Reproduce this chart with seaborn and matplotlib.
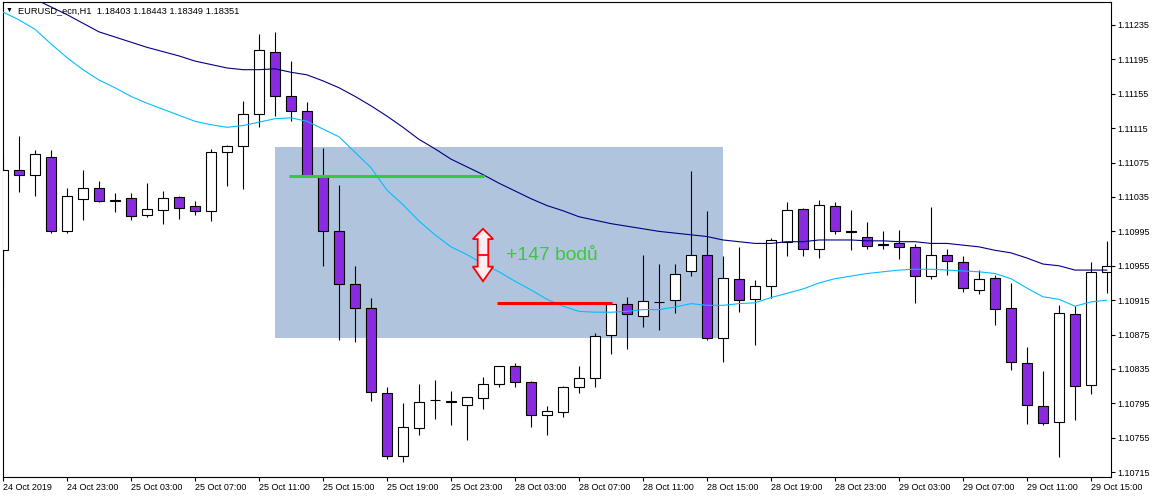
import numpy as np
import pandas as pd
import seaborn as sns
import matplotlib.pyplot as plt
from matplotlib.patches import Rectangle, Polygon

# H1 candles, 24 Oct 2019 19:00 -> 29 Oct 2019 16:00
opens = [1.10973, 1.11066, 1.11061, 1.11081, 1.10995, 1.11033, 1.11045, 1.11031, 1.11034, 1.11014,
         1.11020, 1.11035, 1.11025, 1.11019, 1.11087, 1.11094, 1.11132, 1.11204, 1.11152, 1.11135,
         1.11059, 1.10995, 1.10934, 1.10906, 1.10807, 1.10734, 1.10766, 1.10799, 1.10798, 1.10793,
         1.10801, 1.10818, 1.10838, 1.10820, 1.10781, 1.10785, 1.10814, 1.10825, 1.10875, 1.10911,
         1.10897, 1.10913, 1.10915, 1.10949, 1.10968, 1.10871, 1.10940, 1.10916, 1.10932, 1.10983,
         1.11021, 1.10975, 1.11025, 1.10995, 1.10989, 1.10980, 1.10981, 1.10977, 1.10943, 1.10968,
         1.10959, 1.10927, 1.10941, 1.10906, 1.10842, 1.10792, 1.10773, 1.10899, 1.10816, 1.10948]
highs = [1.11082, 1.11106, 1.11090, 1.11090, 1.11045, 1.11066, 1.11054, 1.11040, 1.11040, 1.11051,
         1.11042, 1.11036, 1.11030, 1.11091, 1.11096, 1.11147, 1.11225, 1.11227, 1.11193, 1.11146,
         1.11092, 1.11049, 1.10955, 1.10918, 1.10814, 1.10796, 1.10818, 1.10822, 1.10809, 1.10802,
         1.10826, 1.10838, 1.10842, 1.10821, 1.10792, 1.10815, 1.10838, 1.10877, 1.10912, 1.10919,
         1.10968, 1.10957, 1.10957, 1.11065, 1.11019, 1.10966, 1.10977, 1.10939, 1.10987, 1.11029,
         1.11022, 1.11032, 1.11029, 1.11020, 1.11006, 1.10995, 1.10997, 1.10980, 1.11023, 1.10975,
         1.10966, 1.10950, 1.10944, 1.10935, 1.10861, 1.10833, 1.10909, 1.10908, 1.10959, 1.10984]
lows = [1.10930, 1.11041, 1.11036, 1.10993, 1.10993, 1.11008, 1.11029, 1.11018, 1.11008, 1.11012,
        1.11004, 1.11009, 1.11014, 1.11007, 1.11048, 1.11044, 1.11116, 1.11129, 1.11123, 1.11058,
        1.10955, 1.10869, 1.10866, 1.10798, 1.10730, 1.10727, 1.10758, 1.10777, 1.10770, 1.10752,
        1.10788, 1.10814, 1.10814, 1.10768, 1.10758, 1.10779, 1.10807, 1.10814, 1.10852, 1.10858,
        1.10884, 1.10880, 1.10900, 1.10943, 1.10869, 1.10843, 1.10901, 1.10863, 1.10918, 1.10966,
        1.10966, 1.10964, 1.10992, 1.10973, 1.10975, 1.10975, 1.10963, 1.10912, 1.10940, 1.10944,
        1.10925, 1.10922, 1.10886, 1.10834, 1.10771, 1.10770, 1.10733, 1.10776, 1.10806, 1.10923]
closes = [1.11066, 1.11061, 1.11085, 1.10995, 1.11036, 1.11045, 1.11030, 1.11030, 1.11013, 1.11021,
          1.11034, 1.11022, 1.11019, 1.11087, 1.11094, 1.11132, 1.11206, 1.11152, 1.11135, 1.11059,
          1.10995, 1.10934, 1.10906, 1.10808, 1.10734, 1.10768, 1.10797, 1.10799, 1.10797, 1.10802,
          1.10818, 1.10838, 1.10820, 1.10781, 1.10786, 1.10814, 1.10825, 1.10873, 1.10911, 1.10899,
          1.10914, 1.10913, 1.10945, 1.10968, 1.10871, 1.10941, 1.10915, 1.10932, 1.10985, 1.11020,
          1.10975, 1.11026, 1.10995, 1.10994, 1.10978, 1.10979, 1.10977, 1.10943, 1.10968, 1.10961,
          1.10929, 1.10940, 1.10905, 1.10843, 1.10793, 1.10772, 1.10900, 1.10815, 1.10948, 1.10955]

# moving averages (slow = navy, fast = light blue)
ma_slow = [1.11284, 1.11275, 1.11265, 1.11256, 1.11247, 1.11237, 1.11227, 1.11221, 1.11215, 1.11209,
           1.11204, 1.11199, 1.11193, 1.11189, 1.11185, 1.11183, 1.11183, 1.11184, 1.11180, 1.11177,
           1.11170, 1.11162, 1.11152, 1.11141, 1.11129, 1.11116, 1.11102, 1.11091, 1.11079, 1.11070,
           1.11061, 1.11051, 1.11042, 1.11033, 1.11025, 1.11019, 1.11012, 1.11008, 1.11004, 1.11001,
           1.10998, 1.10995, 1.10993, 1.10991, 1.10989, 1.10985, 1.10983, 1.10981, 1.10981, 1.10983,
           1.10983, 1.10985, 1.10985, 1.10985, 1.10984, 1.10984, 1.10983, 1.10983, 1.10981, 1.10981,
           1.10979, 1.10977, 1.10973, 1.10970, 1.10964, 1.10957, 1.10955, 1.10950, 1.10950, 1.10950]
ma_fast = [1.11250, 1.11241, 1.11230, 1.11213, 1.11197, 1.11183, 1.11171, 1.11162, 1.11152, 1.11144,
           1.11137, 1.11130, 1.11123, 1.11119, 1.11116, 1.11118, 1.11122, 1.11126, 1.11127, 1.11123,
           1.11114, 1.11105, 1.11087, 1.11069, 1.11043, 1.11026, 1.11007, 1.10991, 1.10977, 1.10968,
           1.10957, 1.10948, 1.10937, 1.10927, 1.10916, 1.10908, 1.10902, 1.10901, 1.10901, 1.10902,
           1.10904, 1.10904, 1.10907, 1.10911, 1.10909, 1.10909, 1.10911, 1.10912, 1.10918, 1.10923,
           1.10928, 1.10935, 1.10940, 1.10943, 1.10946, 1.10948, 1.10950, 1.10951, 1.10951, 1.10950,
           1.10949, 1.10948, 1.10946, 1.10940, 1.10929, 1.10919, 1.10916, 1.10908, 1.10913, 1.10915]

time_labels = ["24 Oct 2019", "24 Oct 23:00", "25 Oct 03:00", "25 Oct 07:00", "25 Oct 11:00",
               "25 Oct 15:00", "25 Oct 19:00", "25 Oct 23:00", "28 Oct 03:00", "28 Oct 07:00",
               "28 Oct 11:00", "28 Oct 15:00", "28 Oct 19:00", "28 Oct 23:00", "29 Oct 03:00",
               "29 Oct 07:00", "29 Oct 11:00", "29 Oct 15:00"]
price_ticks = [1.10715, 1.10755, 1.10795, 1.10835, 1.10875, 1.10915, 1.10955,
               1.10995, 1.11035, 1.11075, 1.11115, 1.11155, 1.11195, 1.11235]

# drawn objects on the chart
zone_start, zone_end = 17.0, 45.0
zone_low, zone_high = 1.10871, 1.11093
green_level, green_start, green_end = 1.11059, 17.9, 30.05
red_level, red_start, red_end = 1.10912, 30.9, 38.05
arrow_x = 30.0
arrow_top, arrow_head_top, arrow_mid, arrow_head_bot, arrow_bot = 1.10998, 1.10986, 1.10968, 1.10954, 1.10937
gain_text = "+147 bodů"
title = "EURUSD_ecn,H1  1.18403 1.18443 1.18349 1.18351"

sns.set_style("white")
plt.rcParams['font.family'] = ['Liberation Sans', 'DejaVu Sans']

df = pd.DataFrame({'open': opens, 'high': highs, 'low': lows, 'close': closes,
                   'ma_slow': ma_slow, 'ma_fast': ma_fast})
df['idx'] = np.arange(len(df))

fig = plt.figure(figsize=(11.53, 4.97), dpi=100)
ax = fig.add_axes([2.5 / 1153, 20 / 497, (1111 - 2.5) / 1153, (477 - 2) / 497])

ax.add_patch(Rectangle((zone_start, zone_low), zone_end - zone_start, zone_high - zone_low,
                       facecolor='#b0c4de', edgecolor='none', zorder=0.5))

# candles
ax.vlines(df['idx'], df['low'], df['high'], color='black', lw=0.8, zorder=2)
bull = df['close'] >= df['open']
body_colors = np.where(bull, 'white', '#8a2be2')
ax.bar(df['idx'], (df['close'] - df['open']).abs(), bottom=df[['open', 'close']].min(axis=1),
       width=0.62, color=body_colors, edgecolor='black', linewidth=0.8, zorder=3)

# moving averages
sns.lineplot(data=df, x='idx', y='ma_slow', color='#000080', lw=0.8, ax=ax, zorder=4)
sns.lineplot(data=df, x='idx', y='ma_fast', color='#00bfff', lw=0.8, ax=ax, zorder=4)

# levels, arrow and text
ax.hlines(green_level, green_start, green_end, color='#32cd32', lw=2.2, zorder=5)
ax.hlines(red_level, red_start, red_end, color='#ff0000', lw=2.2, zorder=5)
hw, sw = 0.64, 0.33
arrow_pts = [(arrow_x, arrow_top), (arrow_x + hw, arrow_head_top), (arrow_x + sw, arrow_head_top),
             (arrow_x + sw, arrow_head_bot), (arrow_x + hw, arrow_head_bot), (arrow_x, arrow_bot),
             (arrow_x - hw, arrow_head_bot), (arrow_x - sw, arrow_head_bot),
             (arrow_x - sw, arrow_head_top), (arrow_x - hw, arrow_head_top)]
ax.add_patch(Polygon(arrow_pts, closed=True, facecolor='#fbeef2', edgecolor='#ff0000',
                     lw=1.3, zorder=5))
ax.hlines(arrow_mid, arrow_x - sw, arrow_x + sw, color='#ff0000', lw=1.3, zorder=6)
ax.text(31.45, 1.10967, gain_text, color='#3cc83c', fontsize=13.9, ha='left', va='center', zorder=6)

# axes
ax.set_xlim(-0.03, 69.25)
ax.set_ylim(1.107094, 1.112617)
ax.set_xlabel('')
ax.set_ylabel('')
ax.set_xticks(np.arange(0, 69, 4))
ax.set_xticklabels(time_labels)
ax.set_yticks(price_ticks)
ax.set_yticklabels([f"{p:.5f}" for p in price_ticks])
ax.yaxis.tick_right()
ax.tick_params(axis='y', right=True, left=False, labelright=True, labelleft=False,
               length=3, width=0.8, pad=1.5, labelsize=6.5, colors='black')
ax.tick_params(axis='x', bottom=True, length=3, width=0.8, pad=1.5, labelsize=6.5, colors='black')
for lbl in ax.get_xticklabels():
    lbl.set_horizontalalignment('left')
for sp in ax.spines.values():
    sp.set_visible(True)
    sp.set_color('black')
    sp.set_linewidth(0.8)

fig.text(9.5 / 1153, 1 - 10.8 / 497, '▼', fontsize=5, ha='center', va='center', color='black')
fig.text(18 / 1153, 1 - 10.5 / 497, title, fontsize=6.7, ha='left', va='center', color='black')

fig.savefig('out.png', dpi=100)
